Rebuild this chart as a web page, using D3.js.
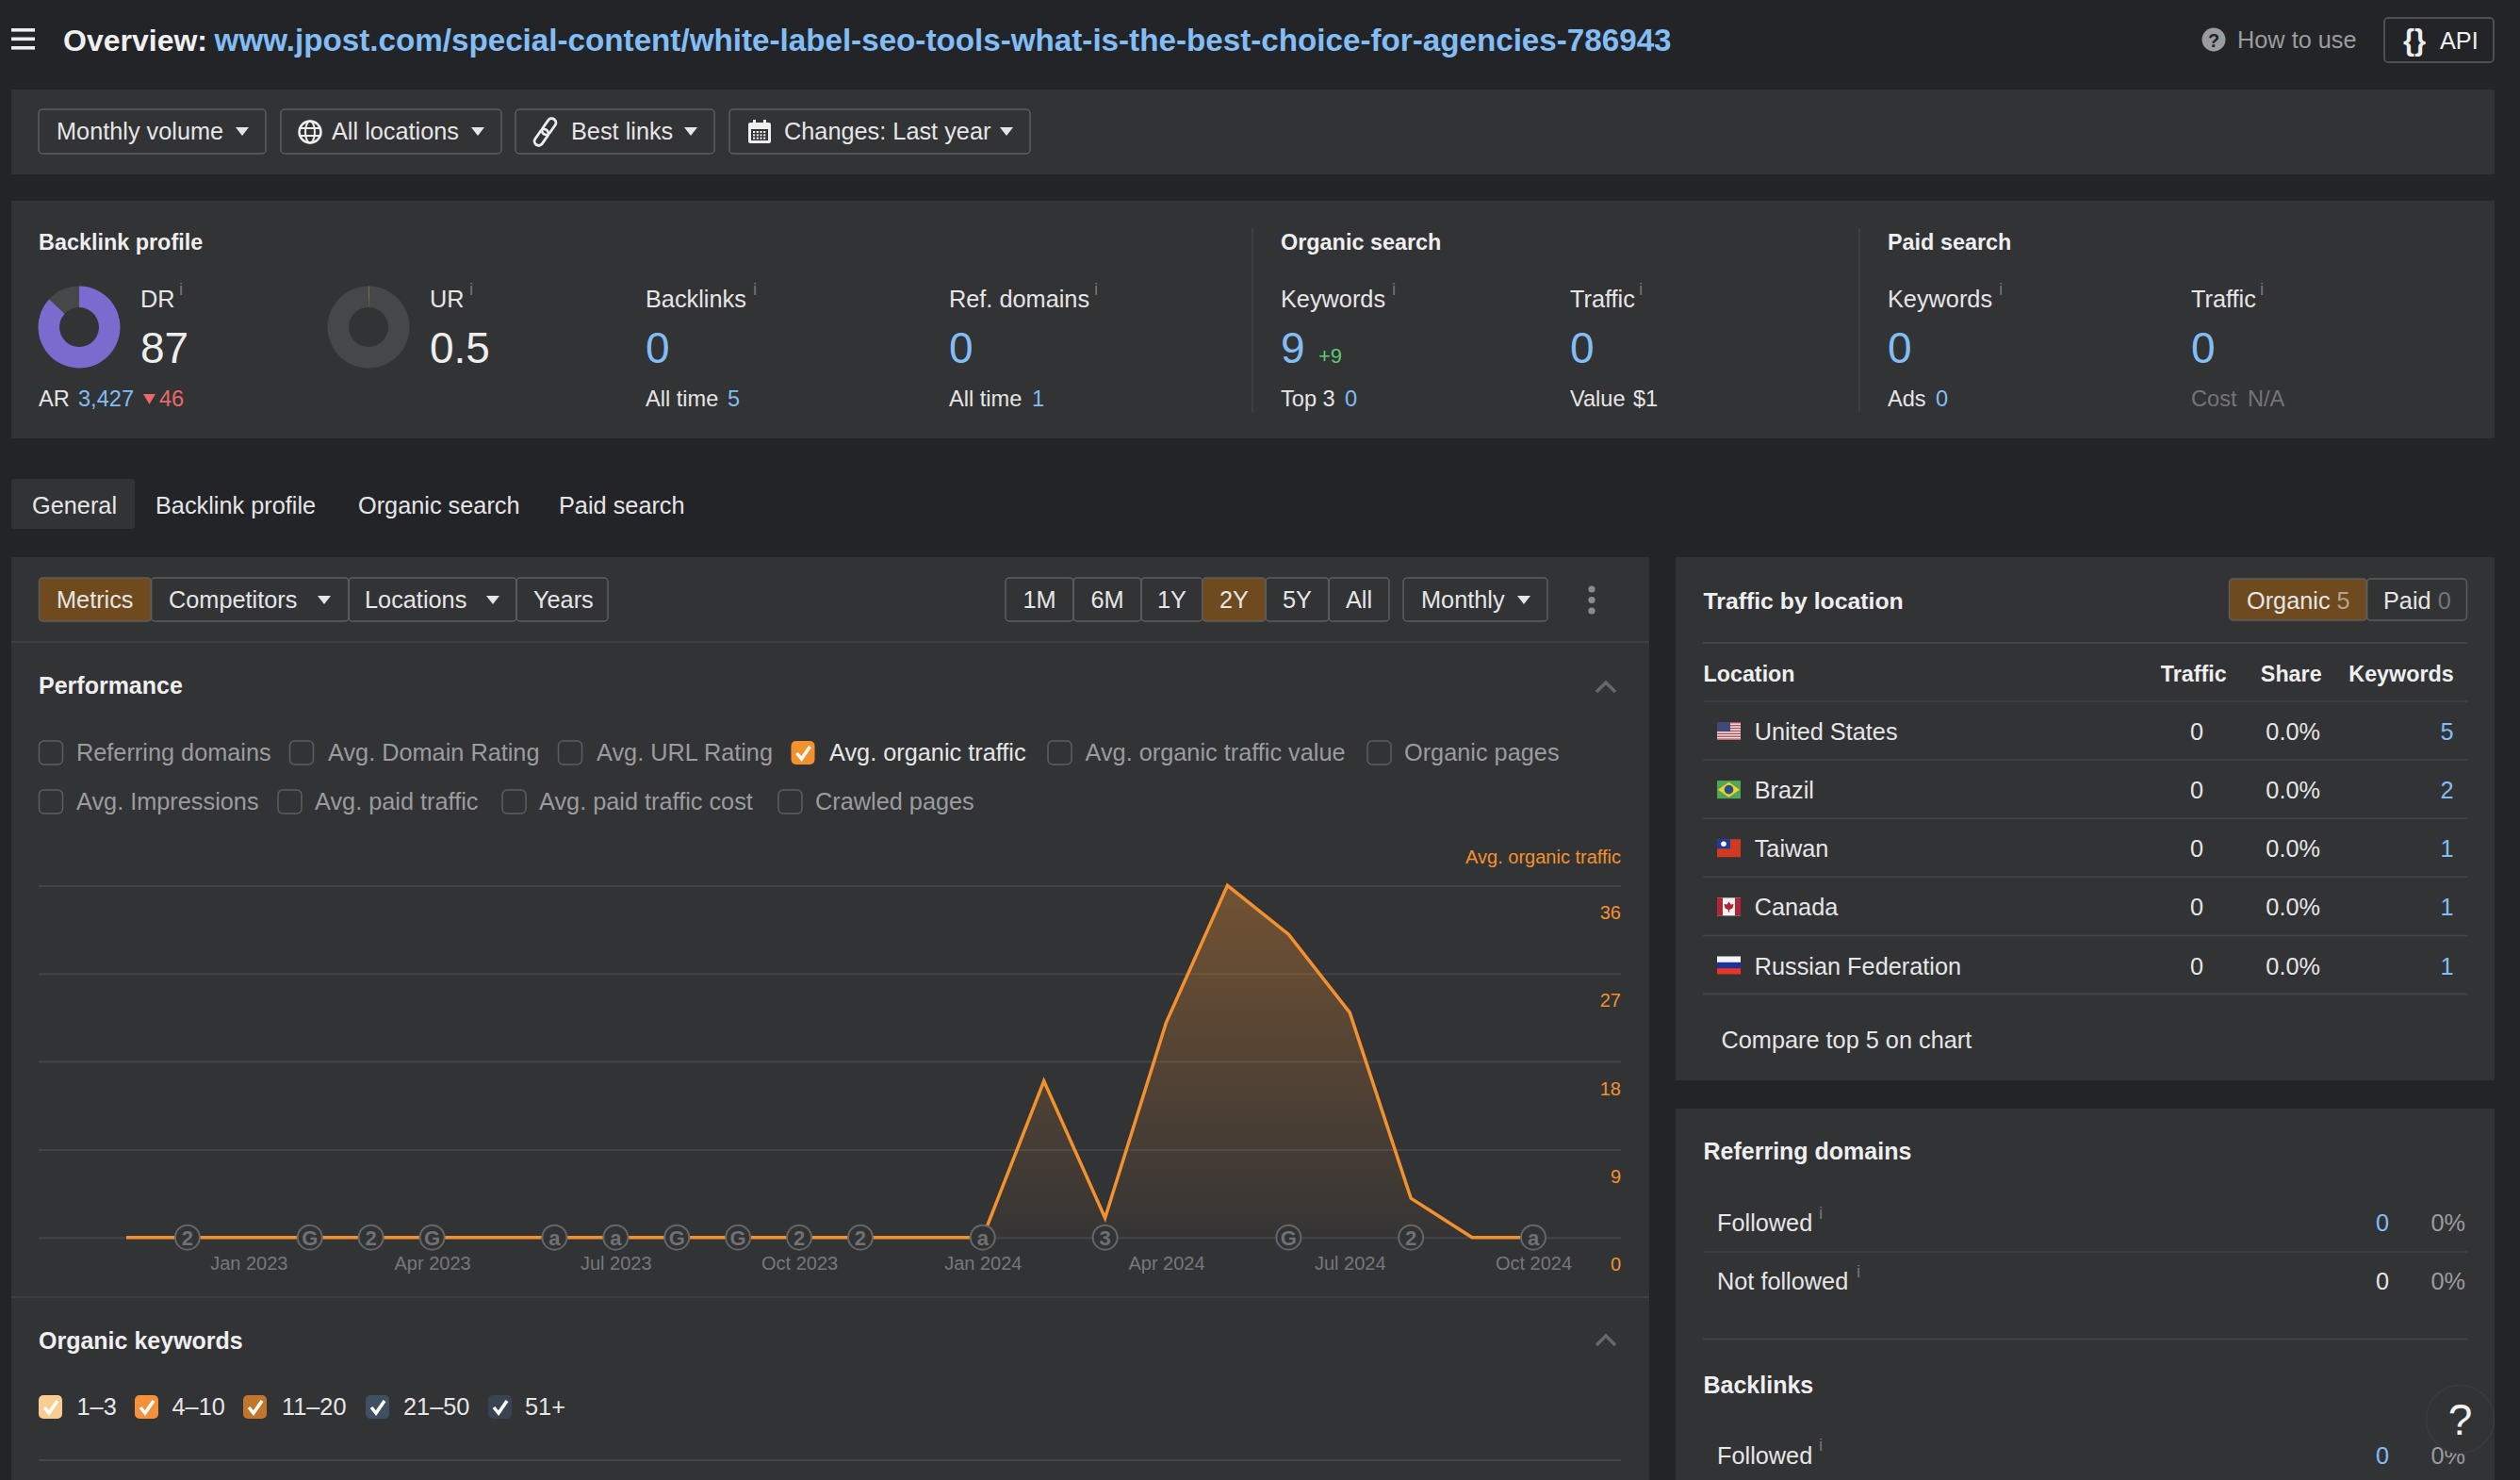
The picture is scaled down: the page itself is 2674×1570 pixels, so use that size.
<!DOCTYPE html>
<html>
<head>
<meta charset="utf-8">
<script src="https://cdn.jsdelivr.net/npm/d3@7"></script>
<style>
  html, body { margin: 0; padding: 0; background: #232427; overflow: hidden; }
  text { font-family: "Liberation Sans", Arial, sans-serif; }
</style>
</head>
<body>
<script>
// chart data
var months = ["Nov 2022", "Dec 2022", "Jan 2023", "Feb 2023", "Mar 2023", "Apr 2023", "May 2023", "Jun 2023",
              "Jul 2023", "Aug 2023", "Sep 2023", "Oct 2023", "Nov 2023", "Dec 2023", "Jan 2024", "Feb 2024",
              "Mar 2024", "Apr 2024", "May 2024", "Jun 2024", "Jul 2024", "Aug 2024", "Sep 2024", "Oct 2024"];
var organicTraffic = [0, 0, 0, 0, 0, 0, 0, 0, 0, 0, 0, 0, 0, 0, 0, 16, 2, 22, 36, 31, 23, 4, 0, 0];
var xTicks = ["Jan 2023", "Apr 2023", "Jul 2023", "Oct 2023", "Jan 2024", "Apr 2024", "Jul 2024", "Oct 2024"];
var yTicks = [0, 9, 18, 27, 36];
var updateMonths = ["Dec 2022", "Feb 2023", "Mar 2023", "Apr 2023", "Jun 2023", "Jul 2023", "Aug 2023", "Sep 2023",
                    "Oct 2023", "Nov 2023", "Jan 2024", "Mar 2024", "Jun 2024", "Aug 2024", "Oct 2024"];
var updateLabels = ["2", "G", "2", "G", "a", "a", "G", "G", "2", "2", "a", "3", "G", "2", "a"];

var locations = ["United States", "Brazil", "Taiwan", "Canada", "Russian Federation"];
var locationTraffic = [0, 0, 0, 0, 0];
var locationShare = ["0.0%", "0.0%", "0.0%", "0.0%", "0.0%"];
var locationKeywords = [5, 2, 1, 1, 1];

var drValue = 87;
var urValue = 0.5;

var performanceRow1 = ["Referring domains", "Avg. Domain Rating", "Avg. URL Rating", "Avg. organic traffic", "Avg. organic traffic value", "Organic pages"];
var performanceRow2 = ["Avg. Impressions", "Avg. paid traffic", "Avg. paid traffic cost", "Crawled pages"];
var keywordRanges = ["1–3", "4–10", "11–20", "21–50", "51+"];
var rangeButtons = ["1M", "6M", "1Y", "2Y", "5Y", "All"];

// colors
var bgColor = "#232427", panelColor = "#323335", lineColor = "#434446", textColor = "#e6e6e6";
var grayText = "#9b9c9e", dimText = "#747577", blue = "#82bdf5", orange = "#f3912f", active = "#6f4a1f";

var svg = d3.select("body").append("svg")
    .attr("width", 2674)
    .attr("height", 1570)
    .style("display", "block");

var defs = svg.append("defs");

var fs = 25.3;
var small = 23.6;
var head = 25;

// small helper to put a text on the page
function label(x, y, str, color, size, weight, anchor) {
    return svg.append("text")
        .attr("x", x)
        .attr("y", y)
        .attr("fill", color || textColor)
        .attr("font-size", size || fs)
        .attr("font-weight", weight || 400)
        .attr("text-anchor", anchor || "start")
        .text(str);
}

function panel(x, y, w, h) {
    svg.append("rect").attr("x", x).attr("y", y).attr("width", w).attr("height", h).attr("fill", panelColor);
}

function hline(x1, x2, y, color, width) {
    svg.append("line").attr("x1", x1).attr("x2", x2).attr("y1", y).attr("y2", y)
        .attr("stroke", color || lineColor).attr("stroke-width", width || 1.5);
}

// function to draw a rounded button frame
function button(x1, x2, y1, y2, fill) {
    svg.append("rect").attr("x", x1).attr("y", y1).attr("width", x2 - x1).attr("height", y2 - y1).attr("rx", 4)
        .attr("fill", fill || "none").attr("stroke", "#5c5d5f").attr("stroke-width", 1.5);
}

function caret(x, y) {
    svg.append("path").attr("d", "M" + (x - 7) + " " + (y - 4) + "h14l-7 9z").attr("fill", textColor);
}

function chevron(x, y) {
    svg.append("path").attr("d", "M" + (x - 10) + " " + (y + 6) + "l10 -10l10 10")
        .attr("fill", "none").attr("stroke", "#66676a").attr("stroke-width", 3.5);
}

function infoMark(x, y) {
    label(x, y, "i", dimText, 19);
}

function checkbox(x, y, size, fill) {
    svg.append("rect").attr("x", x).attr("y", y).attr("width", size).attr("height", size).attr("rx", 5)
        .attr("fill", fill || "none").attr("stroke", fill ? fill : "#5c5d5f").attr("stroke-width", fill ? 0 : 1.5);
    if (fill) {
        svg.append("path")
            .attr("d", "M" + (x + 6) + " " + (y + 13) + "l5 6l9 -13")
            .attr("fill", "none").attr("stroke", "#fff").attr("stroke-width", 3.5);
    }
}

drawHeader();
drawStats();
drawTabs();
drawLeftPanel();
drawChart();
drawRightPanel();

// top title row and filters
function drawHeader() {
    svg.selectAll(".burger").data([0, 1, 2]).enter().append("rect")
        .attr("x", 12).attr("y", function (d) { return 30 + d * 9.5; })
        .attr("width", 25).attr("height", 3.6).attr("fill", "#eee");

    label(67, 54, "Overview:", "#efefef", 32, 700);
    label(227.6, 54, "www.jpost.com/special-content/white-label-seo-tools-what-is-the-best-choice-for-agencies-786943", blue, 33.2, 700);

    svg.append("circle").attr("cx", 2349).attr("cy", 42).attr("r", 12.5).attr("fill", "#9b9c9e");
    label(2349, 50, "?", bgColor, 20, 700, "middle");
    label(2374, 51, "How to use", grayText);
    button(2530, 2646, 19, 66);
    label(2562, 53, "{}", "#eee", 31, 700, "middle");
    label(2589, 52, "API", "#eee");

    panel(12, 95, 2635, 90);
    button(41, 282, 116, 163);
    label(60, 148, "Monthly volume");
    caret(257, 139);
    button(298, 532, 116, 163);
    label(352, 148, "All locations");
    caret(507, 139);
    button(547, 758, 116, 163);
    label(606, 148, "Best links");
    caret(733, 139);
    button(774, 1093, 116, 163);
    label(832, 148, "Changes: Last year");
    caret(1068, 139);

    // globe icon
    svg.append("circle").attr("cx", 329).attr("cy", 140).attr("r", 11.5).attr("fill", "none").attr("stroke", "#eee").attr("stroke-width", 2.5);
    svg.append("ellipse").attr("cx", 329).attr("cy", 140).attr("rx", 5).attr("ry", 11.5).attr("fill", "none").attr("stroke", "#eee").attr("stroke-width", 2);
    hline(318, 340, 136, "#eee", 2);
    hline(318, 340, 144, "#eee", 2);
    // link icon, two rounded links along a diagonal
    svg.selectAll(".chain").data([-7, 7]).enter().append("rect")
        .attr("x", function (d) { return d - 9.5; }).attr("y", -4.5)
        .attr("width", 19).attr("height", 9).attr("rx", 4.5)
        .attr("fill", "none").attr("stroke", "#eee").attr("stroke-width", 2.8)
        .attr("transform", "translate(578.5,140) rotate(-55)");
    // calendar icon
    svg.append("rect").attr("x", 794).attr("y", 130).attr("width", 24).attr("height", 22).attr("rx", 2).attr("fill", "#eee");
    svg.selectAll(".calTab").data([799, 810]).enter().append("rect")
        .attr("x", function (d) { return d; }).attr("y", 127).attr("width", 3).attr("height", 5).attr("fill", "#eee");
    svg.append("rect").attr("x", 797).attr("y", 137).attr("width", 18).attr("height", 12).attr("fill", panelColor);
    svg.selectAll(".cal").data(d3.range(12)).enter().append("rect")
        .attr("x", function (d) { return 799 + (d % 4) * 3.7; })
        .attr("y", function (d) { return 139 + Math.floor(d / 4) * 3.3; })
        .attr("width", 2.2).attr("height", 2).attr("fill", "#eee");
}

// stats block with the two donuts
function drawStats() {
    panel(12, 213, 2635, 252);
    svg.append("line").attr("x1", 1329).attr("x2", 1329).attr("y1", 242).attr("y2", 437).attr("stroke", lineColor).attr("stroke-width", 1.5);
    svg.append("line").attr("x1", 1973).attr("x2", 1973).attr("y1", 242).attr("y2", 437).attr("stroke", lineColor).attr("stroke-width", 1.5);

    label(41, 265, "Backlink profile", "#efefef", 23.4, 700);
    label(1359, 265, "Organic search", "#efefef", 23.4, 700);
    label(2003, 265, "Paid search", "#efefef", 23.4, 700);

    drawDonut(84, 347, drValue, "#7b6bcf");
    drawDonut(391, 347, urValue, "#77733a");

    var big = 46;
    label(149, 326, "DR");
    infoMark(190, 313);
    label(149, 385, drValue, "#eee", big);
    label(41, 431, "AR", textColor, small);
    label(83, 431, "3,427", blue, small);
    svg.append("path").attr("d", "M152 418h13l-6.5 11z").attr("fill", "#e8696b");
    label(169, 431, "46", "#e8696b", small);

    label(456, 326, "UR");
    infoMark(498, 313);
    label(456, 385, urValue, "#eee", big);

    label(685, 326, "Backlinks");
    infoMark(799, 313);
    label(685, 385, "0", blue, big);
    label(685, 431, "All time", textColor, small);
    label(772, 431, "5", blue, small);

    label(1007, 326, "Ref. domains");
    infoMark(1161, 313);
    label(1007, 385, "0", blue, big);
    label(1007, 431, "All time", textColor, small);
    label(1095, 431, "1", blue, small);

    label(1359, 326, "Keywords");
    infoMark(1477, 313);
    label(1359, 385, "9", blue, big);
    label(1399, 385, "+9", "#5fc971", 22);
    label(1359, 431, "Top 3", textColor, small);
    label(1427, 431, "0", blue, small);

    label(1666, 326, "Traffic");
    infoMark(1739, 313);
    label(1666, 385, "0", blue, big);
    label(1666, 431, "Value", textColor, small);
    label(1733, 431, "$1", textColor, small);

    label(2003, 326, "Keywords");
    infoMark(2121, 313);
    label(2003, 385, "0", blue, big);
    label(2003, 431, "Ads", textColor, small);
    label(2054, 431, "0", blue, small);

    label(2325, 326, "Traffic");
    infoMark(2398, 313);
    label(2325, 385, "0", blue, big);
    label(2325, 431, "Cost", dimText, small);
    label(2385, 431, "N/A", dimText, small);
}

// function to draw a rating donut with d3.pie and d3.arc
function drawDonut(cx, cy, value, color) {
    var pie = d3.pie().sort(null)([value, 100 - value]);
    var arc = d3.arc().innerRadius(21).outerRadius(43.5);
    svg.append("g").attr("transform", "translate(" + cx + "," + cy + ")")
        .selectAll("path").data(pie).enter().append("path")
        .attr("d", arc)
        .attr("fill", function (d, i) { return i === 0 ? color : "#464749"; });
}

function drawTabs() {
    svg.append("rect").attr("x", 12).attr("y", 508).attr("width", 131).attr("height", 53).attr("rx", 3).attr("fill", panelColor);
    label(34, 545, "General");
    label(165, 545, "Backlink profile");
    label(380, 545, "Organic search");
    label(593, 545, "Paid search");
}

// controls of the main panel
function drawLeftPanel() {
    panel(12, 591, 1738, 979);

    var y1 = 613, y2 = 659, by = 645;
    button(41.5, 160.5, y1, y2, active);
    label(60, by, "Metrics");
    button(160.5, 370, y1, y2);
    label(179, by, "Competitors");
    caret(344, 636);
    button(370, 548, y1, y2);
    label(387, by, "Locations");
    caret(523, 636);
    button(548, 645, y1, y2);
    label(566, by, "Years");

    var edges = [1067, 1139, 1211, 1276, 1343, 1410, 1474];
    svg.selectAll(".range").data(rangeButtons).enter().each(function (d, i) {
        button(edges[i], edges[i + 1], y1, y2, d === "2Y" ? active : null);
        label((edges[i] + edges[i + 1]) / 2, by, d, textColor, fs, 400, "middle");
    });
    button(1489, 1642, y1, y2);
    label(1508, by, "Monthly");
    caret(1617, 636);
    svg.selectAll(".kebab").data([625, 636.5, 648]).enter().append("circle")
        .attr("cx", 1689).attr("cy", function (d) { return d; }).attr("r", 3.6).attr("fill", "#8b8c8e");

    hline(12, 1750, 681);
    label(41, 736, "Performance", "#efefef", head, 700);
    chevron(1704, 728);

    var row1Boxes = [41.5, 307.5, 592.5, 839.5, 1112, 1451];
    var row1Text = [81, 348, 633, 880, 1151.5, 1490];
    performanceRow1.forEach(function (d, i) {
        var on = d === "Avg. organic traffic";
        checkbox(row1Boxes[i], 786, 25, on ? orange : null);
        label(row1Text[i], 807, d, on ? textColor : grayText);
    });
    var row2Boxes = [41.5, 295, 533, 826];
    var row2Text = [81, 334, 572, 865];
    performanceRow2.forEach(function (d, i) {
        checkbox(row2Boxes[i], 838, 25);
        label(row2Text[i], 859, d, grayText);
    });

    hline(12, 1750, 1376);
    label(41, 1431, "Organic keywords", "#efefef", head, 700);
    chevron(1704, 1421);

    var kwBoxes = [41, 143, 258, 388, 518];
    var kwText = [81.5, 182.5, 299, 428, 557];
    var kwColors = ["#f9cd92", "#f5913a", "#c0762c", "#414f63", "#394450"];
    keywordRanges.forEach(function (d, i) {
        checkbox(kwBoxes[i], 1480, 25, kwColors[i]);
        label(kwText[i], 1501, d);
    });
    hline(41, 1720, 1549, lineColor, 2);
}

// function to draw the traffic line chart
function drawChart() {
    var x = d3.scalePoint().domain(months).range([134, 1627]);
    var y = d3.scaleLinear().domain([0, 36]).range([1312.7, 939.4]);

    var grad = defs.append("linearGradient").attr("id", "areaFill")
        .attr("gradientUnits", "userSpaceOnUse")
        .attr("x1", 0).attr("x2", 0).attr("y1", y(36)).attr("y2", y(0));
    grad.append("stop").attr("offset", 0).attr("stop-color", orange).attr("stop-opacity", 0.33);
    grad.append("stop").attr("offset", 1).attr("stop-color", orange).attr("stop-opacity", 0.02);

    // horizontal grid and value labels
    var yAxis = svg.append("g")
        .attr("transform", "translate(1720,0)")
        .call(d3.axisLeft(y).tickValues(yTicks).tickSize(1679));
    yAxis.select(".domain").remove();
    yAxis.selectAll("line").attr("stroke", lineColor).attr("stroke-width", 2);
    yAxis.selectAll("text")
        .attr("x", 0).attr("dy", 35)
        .attr("text-anchor", "end")
        .attr("fill", orange)
        .attr("font-size", 20)
        .style("font-family", "'Liberation Sans', Arial, sans-serif");

    var xAxis = svg.append("g")
        .attr("transform", "translate(0,1312.7)")
        .call(d3.axisBottom(x).tickValues(xTicks).tickSize(0));
    xAxis.select(".domain").remove();
    xAxis.selectAll("text")
        .attr("y", 34).attr("dy", 0)
        .attr("fill", "#77787a")
        .attr("font-size", 20)
        .style("font-family", "'Liberation Sans', Arial, sans-serif");

    var area = d3.area()
        .x(function (d, i) { return x(months[i]); })
        .y0(y(0))
        .y1(function (d) { return y(d); });
    var line = d3.line()
        .x(function (d, i) { return x(months[i]); })
        .y(function (d) { return y(d); });

    svg.append("path").datum(organicTraffic).attr("d", area).attr("fill", "url(#areaFill)");
    svg.append("path").datum(organicTraffic).attr("d", line)
        .attr("fill", "none").attr("stroke", orange).attr("stroke-width", 3.5).attr("stroke-miterlimit", 10);

    label(1720, 916, "Avg. organic traffic", orange, 20, 400, "end");

    // update markers on the baseline
    var marks = svg.selectAll(".update").data(updateMonths).enter().append("g")
        .attr("class", "update")
        .attr("transform", function (d) { return "translate(" + x(d) + "," + y(0) + ")"; });
    marks.append("circle").attr("r", 13).attr("fill", panelColor).attr("stroke", "#646567").attr("stroke-width", 2);
    marks.append("text")
        .attr("text-anchor", "middle").attr("y", 8).attr("font-size", 22).attr("font-weight", 700).attr("fill", "#707173")
        .text(function (d, i) { return updateLabels[i]; });
}

// function to draw one small flag from rects
function drawFlag(i, x, y) {
    var w = 25, h = 19;
    var g = svg.append("g").attr("transform", "translate(" + x + "," + (y - h / 2) + ")");
    function r(rx, ry, rw, rh, c) { g.append("rect").attr("x", rx).attr("y", ry).attr("width", rw).attr("height", rh).attr("fill", c); }
    if (i === 0) {
        r(0, 0, w, h, "#ececec");
        d3.range(0, 7).forEach(function (s) { r(0, s * 2.9, w, 1.45, "#bb4f58"); });
        r(0, 0, 14, 10, "#3f4a78");
    } else if (i === 1) {
        r(0, 0, w, h, "#4ea858");
        g.append("path").attr("d", "M12.5 1.5L24 9.5L12.5 17.5L1 9.5Z").attr("fill", "#f0d22a");
        g.append("circle").attr("cx", 12.5).attr("cy", 9.5).attr("r", 4.8).attr("fill", "#2c4a8c");
    } else if (i === 2) {
        r(0, 0, w, h, "#cf3a22");
        r(0, 0, 14, 10, "#1e3a9c");
        g.append("circle").attr("cx", 7).attr("cy", 5).attr("r", 2.8).attr("fill", "#fff");
    } else if (i === 3) {
        r(0, 0, w, h, "#f2f2f2");
        r(0, 0, 6, h, "#ad2537");
        r(19, 0, 6, h, "#ad2537");
        g.append("path").attr("d", "M12.5 4L14.5 7L17.5 6.5L16.5 11L13.2 12.5L13.2 15L11.8 15L11.8 12.5L8.5 11L7.5 6.5L10.5 7Z").attr("fill", "#ad2537");
    } else {
        r(0, 0, w, 6.4, "#f4f4f4");
        r(0, 6.4, w, 6.3, "#1f2f9e");
        r(0, 12.7, w, 6.3, "#e8342a");
    }
}

// traffic table and the two link summaries
function drawRightPanel() {
    panel(1778, 591, 869, 555);
    label(1807.5, 646, "Traffic by location", "#efefef", 24.8, 700);

    button(2365.5, 2511.5, 614, 658, active);
    button(2511.5, 2617.5, 614, 658);
    var org = label(2384, 646, "Organic ", textColor);
    org.append("tspan").attr("fill", "#b3a48f").text("5");
    var paid = label(2529, 646, "Paid ", textColor);
    paid.append("tspan").attr("fill", dimText).text("0");

    hline(1807, 2618, 682, lineColor, 2);
    label(1807.5, 722.5, "Location", "#efefef", 23.3, 700);
    label(2362.7, 722.5, "Traffic", "#efefef", 23.3, 700, "end");
    label(2463.6, 722.5, "Share", "#efefef", 23.3, 700, "end");
    label(2603.7, 722.5, "Keywords", "#efefef", 23.3, 700, "end");
    hline(1807, 2618, 744);

    var rowScale = d3.scaleLinear().domain([0, 4]).range([785, 1033.5]);
    locations.forEach(function (d, i) {
        var yy = rowScale(i);
        drawFlag(i, 1822, yy - 9.5);
        label(1861.7, yy, d);
        label(2338, yy, locationTraffic[i], textColor, fs, 400, "end");
        label(2462, yy, locationShare[i], textColor, fs, 400, "end");
        label(2603.7, yy, locationKeywords[i], blue, fs, 400, "end");
        hline(1807, 2618, yy + 21, lineColor, i === 4 ? 2 : 1.5);
    });
    label(1826.5, 1112, "Compare top 5 on chart");

    panel(1778, 1176, 869, 394);
    label(1807.5, 1230, "Referring domains", "#efefef", head, 700);
    label(1822, 1306, "Followed");
    infoMark(1930, 1293);
    label(2535, 1306, "0", blue, fs, 400, "end");
    label(2616, 1306, "0%", grayText, fs, 400, "end");
    hline(1807, 2618, 1328);
    label(1822, 1368, "Not followed");
    infoMark(1970, 1355);
    label(2535, 1368, "0", textColor, fs, 400, "end");
    label(2616, 1368, "0%", grayText, fs, 400, "end");
    hline(1807, 2618, 1420.5, lineColor, 2);
    label(1807.5, 1477.5, "Backlinks", "#efefef", head, 700);
    label(1822, 1552.5, "Followed");
    infoMark(1930, 1539);
    label(2535, 1552.5, "0", blue, fs, 400, "end");
    label(2616, 1552.5, "0%", grayText, fs, 400, "end");

    // floating help bubble
    svg.append("circle").attr("cx", 2610.5).attr("cy", 1505.5).attr("r", 36).attr("fill", panelColor).attr("stroke", "#3a3b3d").attr("stroke-width", 1.5);
    label(2610.5, 1522, "?", "#f2f2f2", 46, 400, "middle");
}
</script>
</body>
</html>
